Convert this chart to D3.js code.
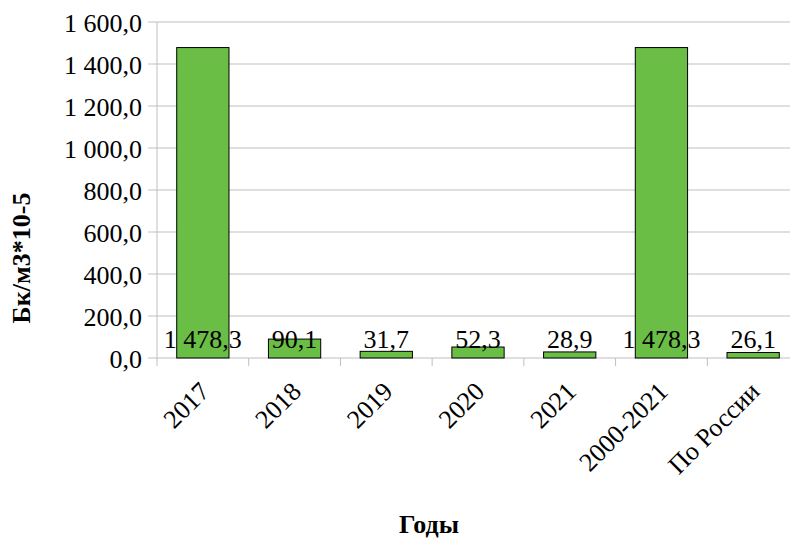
<!DOCTYPE html>
<html>
<head>
<meta charset="utf-8">
<script src="https://cdn.jsdelivr.net/npm/d3@7"></script>
<style>
  body { margin: 0; background: #fff; }
  svg text { font-family: "Liberation Serif", "Times New Roman", "DejaVu Serif", serif; }
</style>
</head>
<body>
<svg id="chart"></svg>
<script>
// Data
const categories = ["2017", "2018", "2019", "2020", "2021", "2000-2021", "По России"];
const values = [1478.3, 90.1, 31.7, 52.3, 28.9, 1478.3, 26.1];
const yTicks = [0, 200, 400, 600, 800, 1000, 1200, 1400, 1600];

const width = 790;
const height = 540;
const fontFamily = "'Liberation Serif', 'Times New Roman', 'DejaVu Serif', serif";

const svg = d3.select("#chart")
  .attr("width", width)
  .attr("height", height)
  .attr("font-family", fontFamily);

const plotLeft = 157, plotRight = 799, plotTop = 22, plotBottom = 358;

const x = d3.scaleBand().domain(categories).range([plotLeft, plotRight]).paddingInner(0.43).paddingOuter(0.215);
const xTick = d3.scaleBand().domain(categories).range([plotLeft, plotRight]);
const y = d3.scaleLinear().domain([0, 1600]).range([plotBottom, plotTop]);

const fmt = (v) => {
  const s = d3.format(",.1f")(v);
  return s.replace(/,/g, " ").replace(".", ",");
};

// Gridlines
svg.append("g")
  .selectAll("line")
  .data(yTicks)
  .join("line")
  .attr("x1", plotLeft - 9)
  .attr("x2", plotRight)
  .attr("y1", (d) => y(d))
  .attr("y2", (d) => y(d))
  .attr("stroke", "#bfbfbf")
  .attr("stroke-width", 1);

// Y axis line
svg.append("line")
  .attr("x1", plotLeft).attr("x2", plotLeft)
  .attr("y1", plotTop).attr("y2", plotBottom)
  .attr("stroke", "#bfbfbf");

// X tick marks
svg.append("g")
  .selectAll("line")
  .data(categories)
  .join("line")
  .attr("x1", (d) => xTick(d))
  .attr("x2", (d) => xTick(d))
  .attr("y1", plotBottom)
  .attr("y2", plotBottom + 8)
  .attr("stroke", "#bfbfbf");

// Y tick labels
svg.append("g")
  .selectAll("text")
  .data(yTicks)
  .join("text")
  .attr("x", plotLeft - 15)
  .attr("y", (d) => y(d))
  .attr("dy", "0.4em")
  .attr("text-anchor", "end")
  .attr("font-size", 26)
  .attr("fill", "#000")
  .text((d) => fmt(d));

// Bars
svg.append("g")
  .selectAll("rect")
  .data(values)
  .join("rect")
  .attr("x", (d, i) => x(categories[i]))
  .attr("y", (d) => y(d))
  .attr("width", x.bandwidth())
  .attr("height", (d) => plotBottom - y(d))
  .attr("fill", "#6abd45")
  .attr("stroke", "#000")
  .attr("stroke-width", 1);

// Value labels
svg.append("g")
  .selectAll("text")
  .data(values)
  .join("text")
  .attr("x", (d, i) => xTick(categories[i]) + xTick.bandwidth() / 2)
  .attr("y", plotBottom - 10)
  .attr("text-anchor", "middle")
  .attr("font-size", 26)
  .attr("fill", "#000")
  .text((d) => fmt(d));

// X category labels (rotated)
svg.append("g")
  .selectAll("text")
  .data(categories)
  .join("text")
  .attr("transform", (d) => `translate(${xTick(d) + xTick.bandwidth() / 2 + 8},${plotBottom + 35}) rotate(-45)`)
  .attr("text-anchor", "end")
  .attr("font-size", 26)
  .attr("fill", "#000")
  .text((d) => d);

// Axis titles
svg.append("text")
  .attr("transform", "translate(30,258) rotate(-90)")
  .attr("text-anchor", "middle")
  .attr("font-size", 26)
  .attr("font-weight", "bold")
  .text("Бк/м3*10-5");

svg.append("text")
  .attr("x", 429)
  .attr("y", 533)
  .attr("text-anchor", "middle")
  .attr("font-size", 26)
  .attr("font-weight", "bold")
  .text("Годы");
</script>
</body>
</html>
